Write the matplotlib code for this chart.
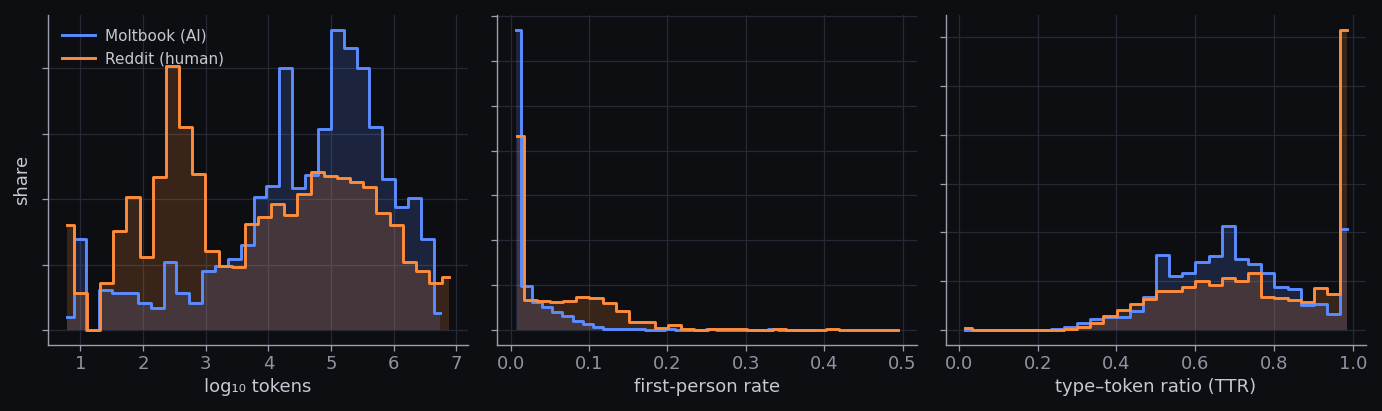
import numpy as np
import matplotlib
matplotlib.use("Agg")
import matplotlib.pyplot as plt

# ---------------- data (share of posts per bin) ----------------
series_names = ["Moltbook (AI)", "Reddit (human)"]

# panel 1: log10 tokens
tok_ai_span = (0.79, 6.74)
tok_ai = [0.0039, 0.0278, 0.0, 0.0122, 0.0112, 0.0112, 0.0082, 0.0066, 0.0207, 0.0112,
          0.0082, 0.0180, 0.0196, 0.0216, 0.0260, 0.0406, 0.0440, 0.0800, 0.0435, 0.0474,
          0.0614, 0.0917, 0.0861, 0.0802, 0.0620, 0.0461, 0.0375, 0.0403, 0.0278, 0.0053]
tok_hu_span = (0.79, 6.88)
tok_hu = [0.0321, 0.0112, 0.0, 0.0145, 0.0303, 0.0406, 0.0222, 0.0467, 0.0807, 0.0620,
          0.0477, 0.0240, 0.0196, 0.0192, 0.0324, 0.0346, 0.0385, 0.0352, 0.0416, 0.0482,
          0.0472, 0.0464, 0.0451, 0.0436, 0.0357, 0.0321, 0.0207, 0.0181, 0.0143, 0.0161]

# panel 2: first-person rate
fp_ai_span = (0.007, 0.387)
fp_ai = [0.669, 0.099, 0.062, 0.051, 0.041, 0.031, 0.021, 0.013, 0.006, 0.0015,
         0.0015, 0.0015, 0.0012, 0.0003, 0.0003, 0.0012, 0.0003, 0.0003, 0.0003, 0.0012,
         0.0002, 0.0002, 0.0002, 0.0002, 0.0002, 0.0012, 0.0001, 0.0001, 0.0001, 0.0001]
fp_hu_span = (0.0085, 0.494)
fp_hu = [0.432, 0.067, 0.065, 0.062, 0.065, 0.073, 0.071, 0.060, 0.043, 0.017,
         0.017, 0.005, 0.0105, 0.003, 0.001, 0.003, 0.0012, 0.0012, 0.0005, 0.0005,
         0.003, 0.0003, 0.0003, 0.0003, 0.003, 0.0002, 0.0002, 0.0002, 0.0002, 0.0002]

# panel 3: type-token ratio
ttr_ai_span = (0.0157, 0.985)
ttr_ai = [0.0, 0.0, 0.0, 0.0, 0.0, 0.0, 0.0003, 0.0015, 0.0034, 0.0068,
          0.0113, 0.0130, 0.0135, 0.0195, 0.0343, 0.0770, 0.0555, 0.0580, 0.0696, 0.0754,
          0.1062, 0.0727, 0.0675, 0.0582, 0.0445, 0.0418, 0.0257, 0.0264, 0.0161, 0.1035]
ttr_hu_span = (0.0157, 0.985)
ttr_hu = [0.0017, 0.0, 0.0, 0.0, 0.0, 0.0, 0.0, 0.0, 0.0012, 0.0034,
          0.0075, 0.0144, 0.0206, 0.0264, 0.0315, 0.0404, 0.0404, 0.0439, 0.0504, 0.0462,
          0.0538, 0.0504, 0.0582, 0.0343, 0.0325, 0.0308, 0.0284, 0.0428, 0.0367, 0.3076]

x_labels = ["log\u2081\u2080 tokens", "first-person rate", "type\u2013token ratio (TTR)"]
y_label = "share"

# ---------------- style ----------------
BG = "#0d0e12"
GRID = "#262836"
SPINE = "#9aa0ad"
TICKLBL = "#8e94a2"
LABEL = "#c5c9d2"
BLUE = "#5b8cff"
ORANGE = "#ff8c3a"

plt.rcParams["font.family"] = ["DejaVu Sans"]

fig = plt.figure(figsize=(13.82, 4.11), dpi=100, facecolor=BG)
W, H = 1382.0, 411.0
lefts = [48, 497, 946]
aw, top, bot = 420, 15, 345
axes = [fig.add_axes([l / W, 1 - bot / H, aw / W, (bot - top) / H]) for l in lefts]

panels = [
    ((tok_ai_span, tok_ai), (tok_hu_span, tok_hu)),
    ((fp_ai_span, fp_ai), (fp_hu_span, fp_hu)),
    ((ttr_ai_span, ttr_ai), (ttr_hu_span, ttr_hu)),
]

for ax, (ai, hu), xl in zip(axes, panels, x_labels):
    ax.set_facecolor(BG)
    for (span, vals), color, name in zip((ai, hu), (BLUE, ORANGE), series_names):
        vals = np.asarray(vals)
        xs = np.linspace(span[0], span[1], len(vals))
        ax.fill_between(xs, vals, step="mid", color=color, alpha=0.18, linewidth=0)
        ax.step(xs, vals, where="mid", color=color, lw=2.1, label=name)
    ax.grid(True, color=GRID, lw=0.9)
    ax.set_axisbelow(True)
    for s in ("top", "right"):
        ax.spines[s].set_visible(False)
    for s in ("left", "bottom"):
        ax.spines[s].set_color(SPINE)
        ax.spines[s].set_linewidth(1.0)
    ax.tick_params(axis="both", colors=SPINE, labelcolor=TICKLBL, labelsize=13,
                   length=4, width=0.9)
    ax.tick_params(axis="y", labelleft=False)
    ax.set_xlabel(xl, color=LABEL, fontsize=13, labelpad=3)

axes[0].set_ylabel(y_label, color=LABEL, fontsize=13, labelpad=8)
leg = axes[0].legend(loc="upper left", frameon=False, fontsize=11, handlelength=2.2,
                     handletextpad=0.65, labelcolor=LABEL)

fig.savefig("out.png", dpi=100, facecolor=BG)
